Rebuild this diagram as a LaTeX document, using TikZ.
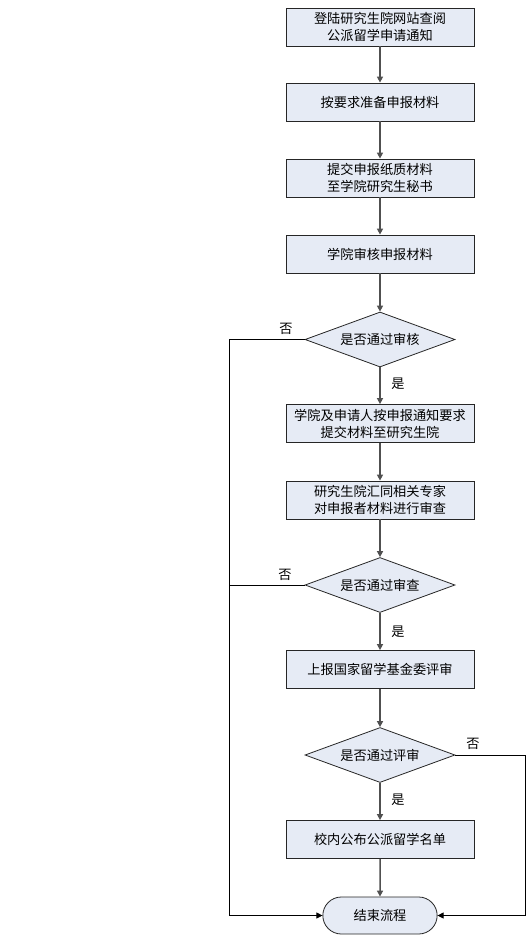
\documentclass[tikz,border=0pt]{standalone}
\usepackage{fontspec}
\setmainfont{Noto Sans CJK SC}
\usetikzlibrary{shapes.geometric,shapes.misc,arrows.meta}
\definecolor{boxfill}{HTML}{E6EBF5}
\definecolor{linegray}{HTML}{505050}
\begin{document}
\begin{tikzpicture}[x=1pt,y=-1pt,
  font=\fontsize{13.2}{17}\selectfont,
  stepbox/.style={draw=black!85,line width=0.8pt,fill=boxfill,minimum width=188pt,minimum height=38pt,inner sep=1pt,align=center},
  decision/.style={diamond,draw=black!85,line width=0.8pt,fill=boxfill,minimum width=150pt,minimum height=55pt,inner sep=0pt,aspect=2.7},
  terminal/.style={rounded rectangle,draw=black!85,line width=0.8pt,fill=boxfill,minimum width=121pt,minimum height=37pt},
  flow/.style={draw=linegray,line width=1.5pt,-{Triangle[length=6pt,width=6pt]},color=linegray},
  side/.style={draw=black,line width=0.8pt},
  sidearrow/.style={draw=black,line width=0.8pt,-{Triangle[length=6pt,width=6pt]}},
  lbl/.style={inner sep=0pt}]
\useasboundingbox (0,0) rectangle (531,935);
\node[stepbox] (b1) at (380,27) {登陆研究生院网站查阅\\公派留学申请通知};
\node[stepbox] (b2) at (380,102) {按要求准备申报材料};
\node[stepbox] (b3) at (380,178) {提交申报纸质材料\\至学院研究生秘书};
\node[stepbox] (b4) at (380,254) {学院审核申报材料};
\node[decision] (d1) at (380,339.5) {是否通过审核};
\node[stepbox] (b5) at (380,423.5) {学院及申请人按申报通知要求\\提交材料至研究生院};
\node[stepbox] (b6) at (380,500) {研究生院汇同相关专家\\对申报者材料进行审查};
\node[decision] (d2) at (380,585) {是否通过审查};
\node[stepbox] (b7) at (380,669.5) {上报国家留学基金委评审};
\node[decision] (d3) at (380,755) {是否通过评审};
\node[stepbox] (b8) at (380,839.5) {校内公布公派留学名单};
\node[terminal] (end) at (380,915.5) {结束流程};
\coordinate (L1) at (229,339.5);
\coordinate (L2) at (229,585);
\coordinate (L3) at (229,915.5);
\coordinate (R1) at (525,755);
\coordinate (R2) at (525,915.5);
\draw[flow] (b1) -- (b2);
\draw[flow] (b2) -- (b3);
\draw[flow] (b3) -- (b4);
\draw[flow] (b4) -- (d1);
\draw[flow] (d1) -- (b5);
\draw[flow] (b5) -- (b6);
\draw[flow] (b6) -- (d2);
\draw[flow] (d2) -- (b7);
\draw[flow] (b7) -- (d3);
\draw[flow] (d3) -- (b8);
\draw[flow] (b8) -- (end);
\draw[side] (d1.west) -- (L1) -- (L2);
\draw[side] (d2.west) -- (L2);
\draw[sidearrow] (L2) -- (L3) -- (end.west);
\draw[sidearrow] (d3.east) -- (R1) -- (R2) -- (end.east);
\node[lbl] (n1) at (286,329) {否};
\node[lbl] (n2) at (285,575) {否};
\node[lbl] (n3) at (473,744) {否};
\node[lbl] (y1) at (398,384) {是};
\node[lbl] (y2) at (398,632) {是};
\node[lbl] (y3) at (398,800) {是};
\end{tikzpicture}
\end{document}
